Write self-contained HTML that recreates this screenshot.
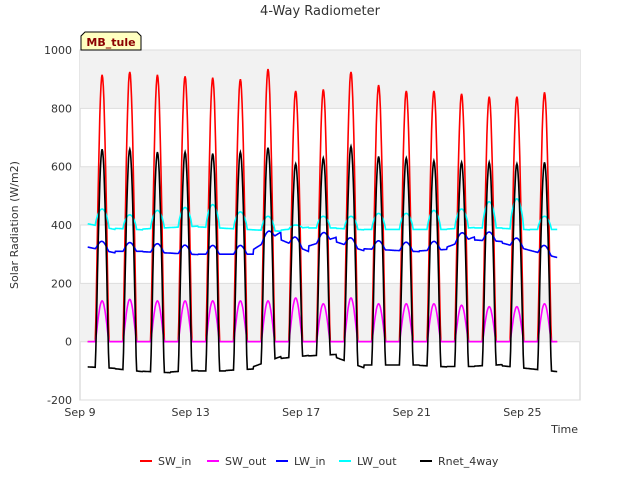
<!DOCTYPE html>
<html><head><meta charset="utf-8"><style>
body{margin:0;background:#fff;font-family:"Liberation Sans","DejaVu Sans",sans-serif}
svg text{font-family:"DejaVu Sans","Liberation Sans",sans-serif}
</style></head><body>
<svg id="c" width="640" height="480" xmlns="http://www.w3.org/2000/svg">
<rect x="80" y="50" width="500" height="350" fill="#fff" stroke="#ccc"/>
<g id="bands"></g><g id="grid"></g><g id="series"></g><g id="axes"></g>
<text x="320" y="15" text-anchor="middle" font-size="13" fill="#333">4-Way Radiometer</text>
<text x="18" y="225" transform="rotate(-90 18 225)" text-anchor="middle" font-size="11" fill="#333">Solar Radiation (W/m2)</text>
<text x="578" y="433" text-anchor="end" font-size="11" fill="#333">Time</text>
<g><path d="M81,50 L81,36 L85,32 L137,32 L141,36 L141,50 Z" fill="#ffffc0" stroke="#000"/><text x="111" y="46" text-anchor="middle" font-size="11" font-weight="bold" fill="#8b0000">MB_tule</text></g>
<g id="legend"></g>
</svg>
<script>
const yTicks=[-200,0,200,400,600,800,1000];
const xTickLabels=["Sep 9","Sep 13","Sep 17","Sep 21","Sep 25"];
const xTickDays=[0,4,8,12,16];
const swInPeak=[915,925,915,910,905,900,935,860,865,925,880,860,860,850,840,840,855];
const swOutPeak=[140,145,140,140,140,140,140,150,130,150,130,130,130,125,120,120,130];
const rnetPeak=[660,660,650,650,645,650,665,610,630,670,635,630,620,615,615,610,615];
const rnetNight=[-85,-90,-100,-105,-100,-100,-95,-60,-50,-45,-80,-80,-80,-85,-85,-80,-90,-100];
const lwInNight=[330,310,310,305,300,300,300,360,320,350,320,315,310,315,350,345,320,295];
const lwOutPeak=[455,435,450,460,470,445,430,400,430,430,440,440,450,455,480,490,430];
const lwOutNight=[410,390,385,390,395,390,385,380,390,390,385,385,385,385,390,390,385,385];
const NS="http://www.w3.org/2000/svg";
const X=t=>80+t*27.65, Y=v=>341.7-v*0.29167;
function mk(tag,attrs,parent){const e=document.createElementNS(NS,tag);for(const k in attrs)e.setAttribute(k,attrs[k]);parent.appendChild(e);return e;}
const bands=document.getElementById('bands');
[[800,1000],[400,600],[0,200]].forEach(b=>{const r=mk('rect',{x:80,y:Y(b[1]),width:500,height:Y(b[0])-Y(b[1]),fill:'#f2f2f2'},bands);

});
const grid=document.getElementById('grid'),axes=document.getElementById('axes');
yTicks.forEach(v=>{const l=mk('line',{x1:80,x2:580,y1:Y(v),y2:Y(v),stroke:'#ddd'},grid);


const t=mk('text',{x:72,y:Y(v)+4,'text-anchor':'end','font-size':11,fill:'#333'},axes);t.textContent=v;

});
xTickDays.forEach((d,i)=>{const t=mk('text',{x:X(d),y:416,'text-anchor':'middle','font-size':11,fill:'#333'},axes);t.textContent=xTickLabels[i];

});
function shape(f){const a=0.555,b=1.045;if(f<a||f>b)return 0;return Math.pow(Math.sin(Math.PI*(f-a)/(b-a)),1.15);}
function series(fn){const pts=[];for(let d=0;d<17;d++){for(let h=0;h<48;h++){const f=h/48+0.28;const t=d+f;if(t<0.28||t>17.7)continue;pts.push([X(t),Y(fn(d,f))]);}}return pts.map(p=>p[0].toFixed(1)+','+p[1].toFixed(1)).join(' ');}
const defs=[
["sw-in-line","red",(d,f)=>swInPeak[d]*shape(f)],
["sw-out-line","magenta",(d,f)=>swOutPeak[d]*shape(f)],
["lw-in-line","blue",(d,f)=>{const n=lwInNight[d]+(lwInNight[d+1]-lwInNight[d])*f;return n+30*shape(f);}],
["lw-out-line","cyan",(d,f)=>{const n=lwOutNight[d]+(lwOutNight[d+1]-lwOutNight[d])*f;return n+(lwOutPeak[d]-n)*Math.pow(shape(f),0.6);}],
["rnet-line","black",(d,f)=>{const n=rnetNight[d]+(rnetNight[d+1]-rnetNight[d])*f;const s=shape(f);return s>0?n+(rnetPeak[d]-n)*s:n;}]
];
const sg=document.getElementById('series');
defs.forEach(s=>{const p=mk('polyline',{points:series(s[2]),fill:'none',stroke:s[1],'stroke-width':1.6},sg);

});
const lg=document.getElementById('legend');
[["SW_in","red",140],["SW_out","magenta",207],["LW_in","blue",276],["LW_out","cyan",339],["Rnet_4way","black",420]].forEach(e=>{
const g=mk('g',{},lg);


mk('line',{x1:e[2],x2:e[2]+12,y1:461,y2:461,stroke:e[1],'stroke-width':2},g);
const t=mk('text',{x:e[2]+18,y:465,'font-size':11,fill:'#333'},g);t.textContent=e[0];});
</script>
</body></html>
